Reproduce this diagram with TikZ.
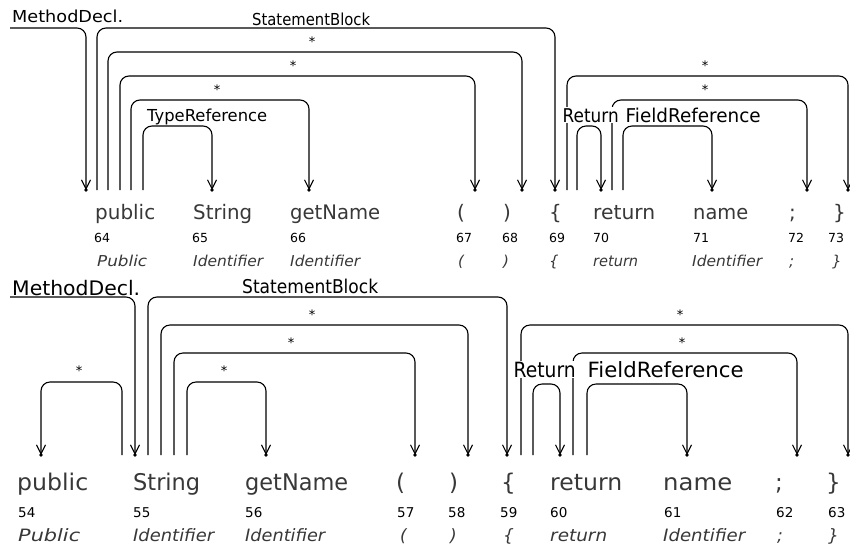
\documentclass[tikz,border=0pt]{standalone}
\usepackage{fontspec}
\setmainfont{DejaVu Sans}
\usepackage{graphicx}
\usetikzlibrary{arrows.meta}
\newcommand\tw[2]{\resizebox{#1pt}{\height}{#2}}
\newcommand\fs[1]{\fontsize{#1}{#1}\selectfont}
\begin{document}
\begin{tikzpicture}[x=1pt,y=-1pt,
  ln/.style={line width=1.1pt, rounded corners=9pt},
  ar/.style={ln, -{Straight Barb[length=9pt,width=9pt]}},
  tipdot/.style={fill=black},
  lab/.style={anchor=base west, inner sep=0pt},
  blab/.style={lab, fill=white, inner xsep=0.5pt, inner ysep=1pt},
  tok/.style={anchor=base west, inner sep=0pt, text=black!78},
  ttok/.style={tok, font=\fs{20}},
  tnum/.style={tok, text=black, font=\fs{12.5}},
  ttyp/.style={tok, font=\fs{15}\itshape},
  btok/.style={tok, font=\fs{23}},
  bnum/.style={tok, text=black, font=\fs{13.5}},
  btyp/.style={tok, font=\fs{17}\itshape},
  star/.style={anchor=base, inner sep=0pt, font=\fs{13}}
]
\useasboundingbox (0,0) rectangle (850,552);
\fill[white] (0,0) rectangle (850,552);

% ---------------- top diagram: levels and end points ----------------
\coordinate (TL1) at (0,28);
\coordinate (TL2) at (0,52);
\coordinate (TL3) at (0,76);
\coordinate (TL4) at (0,100);
\coordinate (TL5) at (0,126);

\coordinate (tmdS) at (10,28);   \coordinate (tmdE) at (86,190);
\coordinate (tsbS) at (97,190);  \coordinate (tsbE) at (555,190);
\coordinate (ta1S) at (108,190); \coordinate (ta1E) at (522,190);
\coordinate (ta2S) at (120,190); \coordinate (ta2E) at (475,190);
\coordinate (ta3S) at (131,190); \coordinate (ta3E) at (309,190);
\coordinate (ttrS) at (143,190); \coordinate (ttrE) at (212,190);
\coordinate (ta4S) at (567,190); \coordinate (ta4E) at (848,190);
\coordinate (ta5S) at (612,190); \coordinate (ta5E) at (807,190);
\coordinate (tretS) at (577,190); \coordinate (tretE) at (601,190);
\coordinate (tfrS) at (623,190); \coordinate (tfrE) at (712,190);

\draw[ar] (tmdS) -| (tmdE);
\draw[ar] (tsbS) |- (tsbE |- TL1) -- (tsbE);
\draw[ar] (ta1S) |- (ta1E |- TL2) -- (ta1E);
\draw[ar] (ta2S) |- (ta2E |- TL3) -- (ta2E);
\draw[ar] (ta3S) |- (ta3E |- TL4) -- (ta3E);
\draw[ar] (ttrS) |- (ttrE |- TL5) -- (ttrE);
\draw[ar] (ta4S) |- (ta4E |- TL3) -- (ta4E);
\draw[ar] (ta5S) |- (ta5E |- TL4) -- (ta5E);
\draw[ar] (tretS) |- (tretE |- TL5) -- (tretE);
\draw[ar] (tfrS) |- (tfrE |- TL5) -- (tfrE);
\foreach \p in {tmdE,tsbE,ta1E,ta2E,ta3E,ttrE,ta4E,ta5E,tretE,tfrE}
  \fill[tipdot] (\p) circle (1.8pt);

% labels top
\node[lab, font=\fs{16.5}] (tmd) at (12,22) {\tw{111}{MethodDecl.}};
\node[lab, font=\fs{16.5}] (tsb) at (252,25) {\tw{118}{StatementBlock}};
\node[lab, font=\fs{16.5}] (ttr) at (147,121) {\tw{120}{TypeReference}};
\node[blab, font=\fs{19}] (tret) at (562,122) {\tw{56}{Return}};
\node[blab, font=\fs{19}] (tfr) at (625,122) {\tw{135}{FieldReference}};
\node[star] (ts1) at (312,46) {*};
\node[star] (ts2) at (293,70) {*};
\node[star] (ts3) at (217,94) {*};
\node[star] (ts4) at (705,70) {*};
\node[star] (ts5) at (705,94) {*};

% tokens top
\node[ttok] (tk1) at (95,219) {\tw{60}{public}};
\node[ttok] (tk2) at (193,219) {\tw{59}{String}};
\node[ttok] (tk3) at (290,219) {\tw{90}{getName}};
\node[ttok] (tk4) at (457,219) {(};
\node[ttok] (tk5) at (503,219) {)};
\node[ttok] (tk6) at (549,219) {\{};
\node[ttok] (tk7) at (593,219) {\tw{62}{return}};
\node[ttok] (tk8) at (693,219) {\tw{55}{name}};
\node[ttok] (tk9) at (789,219) {;};
\node[ttok] (tk10) at (833,219) {\}};

\node[tnum] (tn1) at (94,242) {64};
\node[tnum] (tn2) at (192,242) {65};
\node[tnum] (tn3) at (290,242) {66};
\node[tnum] (tn4) at (456,242) {67};
\node[tnum] (tn5) at (502,242) {68};
\node[tnum] (tn6) at (549,242) {69};
\node[tnum] (tn7) at (593,242) {70};
\node[tnum] (tn8) at (693,242) {71};
\node[tnum] (tn9) at (788,242) {72};
\node[tnum] (tn10) at (828,242) {73};

\node[ttyp] (tt1) at (97,266) {\tw{50}{Public}};
\node[ttyp] (tt2) at (193,266) {\tw{70}{Identifier}};
\node[ttyp] (tt3) at (290,266) {\tw{70}{Identifier}};
\node[ttyp] (tt4) at (458,266) {(};
\node[ttyp] (tt5) at (503,266) {)};
\node[ttyp] (tt6) at (549,266) {\{};
\node[ttyp] (tt7) at (593,266) {\tw{45}{return}};
\node[ttyp] (tt8) at (692,266) {\tw{70}{Identifier}};
\node[ttyp] (tt9) at (789,266) {;};
\node[ttyp] (tt10) at (832,266) {\}};

% ---------------- bottom diagram ----------------
\coordinate (BL1) at (0,297);
\coordinate (BL2) at (0,325);
\coordinate (BL3) at (0,353);
\coordinate (BL4) at (0,382);
\coordinate (BL5) at (0,384);

\coordinate (bmdS) at (10,297);   \coordinate (bmdE) at (135,455);
\coordinate (bsbS) at (148,455);  \coordinate (bsbE) at (507,455);
\coordinate (ba1S) at (161,455);  \coordinate (ba1E) at (468,455);
\coordinate (ba2S) at (174,455);  \coordinate (ba2E) at (415,455);
\coordinate (ba3S) at (187,455);  \coordinate (ba3E) at (266,455);
\coordinate (ba0S) at (122,455);  \coordinate (ba0E) at (41,455);
\coordinate (ba4S) at (521,455);  \coordinate (ba4E) at (848,455);
\coordinate (ba5S) at (573,455);  \coordinate (ba5E) at (797,455);
\coordinate (bretS) at (533,455); \coordinate (bretE) at (560,455);
\coordinate (bfrS) at (587,455);  \coordinate (bfrE) at (687,455);

\draw[ar] (bmdS) -| (bmdE);
\draw[ar] (bsbS) |- (bsbE |- BL1) -- (bsbE);
\draw[ar] (ba1S) |- (ba1E |- BL2) -- (ba1E);
\draw[ar] (ba2S) |- (ba2E |- BL3) -- (ba2E);
\draw[ar] (ba3S) |- (ba3E |- BL4) -- (ba3E);
\draw[ar] (ba0S) |- (ba0E |- BL4) -- (ba0E);
\draw[ar] (ba4S) |- (ba4E |- BL2) -- (ba4E);
\draw[ar] (ba5S) |- (ba5E |- BL3) -- (ba5E);
\draw[ar] (bretS) |- (bretE |- BL5) -- (bretE);
\draw[ar] (bfrS) |- (bfrE |- BL5) -- (bfrE);
\foreach \p in {bmdE,bsbE,ba1E,ba2E,ba3E,ba0E,ba4E,ba5E,bretE,bfrE}
  \fill[tipdot] (\p) circle (1.8pt);

% labels bottom
\node[lab, font=\fs{20}] (bmd) at (12,295) {\tw{128}{MethodDecl.}};
\node[lab, font=\fs{19}] (bsb) at (242,293) {\tw{136}{StatementBlock}};
\node[blab, font=\fs{21}] (bret) at (513,377) {\tw{62}{Return}};
\node[blab, font=\fs{21}] (bfr) at (587,377) {\tw{156}{FieldReference}};
\node[star] (bs1) at (312,319) {*};
\node[star] (bs2) at (291,347) {*};
\node[star] (bs3) at (224,375) {*};
\node[star] (bs0) at (79,375) {*};
\node[star] (bs4) at (680,319) {*};
\node[star] (bs5) at (682,347) {*};

% tokens bottom
\node[btok] (bk1) at (17,490) {\tw{71}{public}};
\node[btok] (bk2) at (133,490) {\tw{67}{String}};
\node[btok] (bk3) at (245,490) {\tw{103}{getName}};
\node[btok] (bk4) at (396,490) {(};
\node[btok] (bk5) at (449,490) {)};
\node[btok] (bk6) at (501,490) {\{};
\node[btok] (bk7) at (550,490) {\tw{72}{return}};
\node[btok] (bk8) at (663,490) {\tw{69}{name}};
\node[btok] (bk9) at (775,490) {;};
\node[btok] (bk10) at (826,490) {\}};

\node[bnum] (bn1) at (18,517) {54};
\node[bnum] (bn2) at (133,517) {55};
\node[bnum] (bn3) at (245,517) {56};
\node[bnum] (bn4) at (397,517) {57};
\node[bnum] (bn5) at (448,517) {58};
\node[bnum] (bn6) at (500,517) {59};
\node[bnum] (bn7) at (550,517) {60};
\node[bnum] (bn8) at (664,517) {61};
\node[bnum] (bn9) at (776,517) {62};
\node[bnum] (bn10) at (828,517) {63};

\node[btyp] (bt1) at (18,541) {\tw{62}{Public}};
\node[btyp] (bt2) at (133,541) {\tw{81}{Identifier}};
\node[btyp] (bt3) at (245,541) {\tw{80}{Identifier}};
\node[btyp] (bt4) at (400,541) {(};
\node[btyp] (bt5) at (450,541) {)};
\node[btyp] (bt6) at (503,541) {\{};
\node[btyp] (bt7) at (550,541) {\tw{57}{return}};
\node[btyp] (bt8) at (663,541) {\tw{82}{Identifier}};
\node[btyp] (bt9) at (777,541) {;};
\node[btyp] (bt10) at (828,541) {\}};
\end{tikzpicture}
\end{document}
